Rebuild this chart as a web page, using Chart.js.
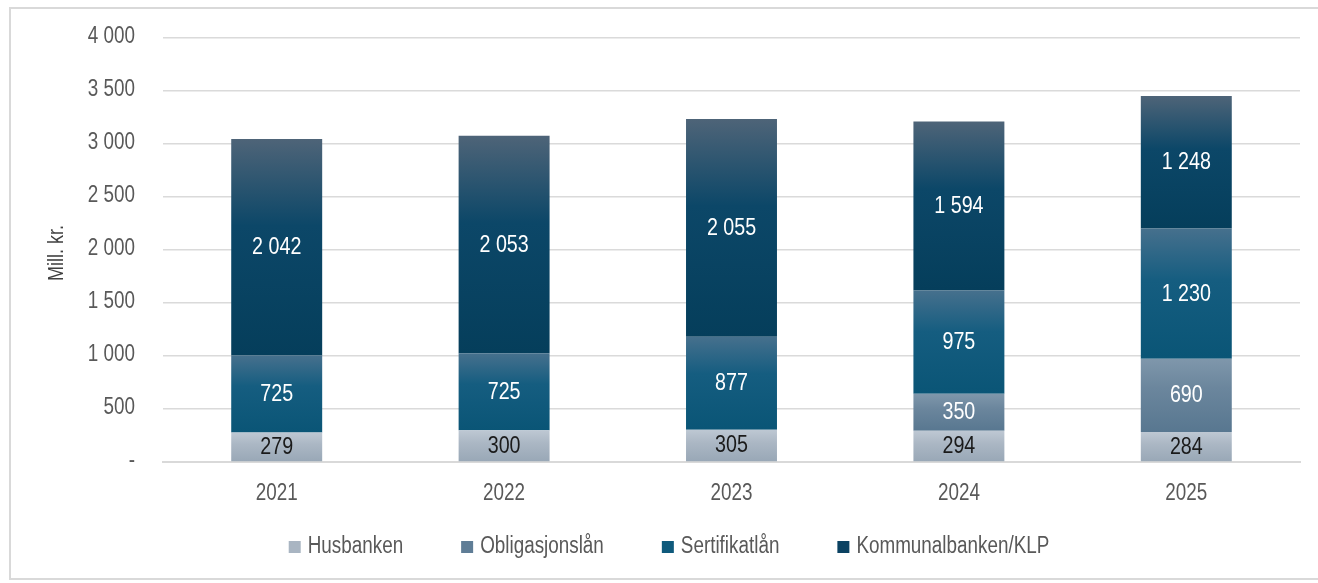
<!DOCTYPE html>
<html>
<head>
<meta charset="utf-8">
<script src="https://cdn.jsdelivr.net/npm/chart.js@4/dist/chart.umd.min.js"></script>
<style>
  html, body { margin: 0; padding: 0; background: #fff; overflow: hidden; }
  #wrap { width: 1318px; height: 583px; position: relative; }
</style>
</head>
<body>
<div id="wrap"><canvas id="graf"></canvas></div>
<script>
const years = ['2021', '2022', '2023', '2024', '2025'];
const husbanken = [279, 300, 305, 294, 284];
const obligasjonslan = [0, 0, 0, 350, 690];
const sertifikatlan = [725, 725, 877, 975, 1230];
const kommunalbanken = [2042, 2053, 2055, 1594, 1248];
const yTicks = [0, 500, 1000, 1500, 2000, 2500, 3000, 3500, 4000];
const names = ['Husbanken', 'Obligasjonslån', 'Sertifikatlån', 'Kommunalbanken/KLP'];

// Arial Narrow-lignende: Liberation Sans klemt sammen horisontalt
const FONT = "'Liberation Sans', Arial, sans-serif";
const NARROW = 0.82;

// gradient (topp -> bunn) per serie
const stops = [
    ['#bec8d3', '#abb7c4', '#98a7b6'],
    ['#7f97ab', '#6b869d', '#587790'],
    ['#46708d', '#155d80', '#0a5576'],
    ['#4e6478', '#0c4768', '#053e5b']
];
const legendColors = ['#a9b5c2', '#5f7d96', '#0f5a7c', '#0b4262'];
const labelColors = ['#1a1a1a', '#ffffff', '#ffffff', '#ffffff'];

const series = [husbanken, obligasjonslan, sertifikatlan, kommunalbanken];

function fmt(v) {
    return String(v).replace(/\B(?=(\d{3})+(?!\d))/g, ' ');
}

function tekst(c, str, x, y, align) {
    c.save();
    c.translate(x, y);
    c.scale(NARROW, 1);
    c.textAlign = align || 'center';
    c.fillText(str, 0, 0);
    c.restore();
}

function gradFor(datasetIndex) {
    return function (ctx) {
        const chart = ctx.chart;
        if (!chart.chartArea || ctx.dataIndex === undefined) return legendColors[datasetIndex];
        const y = chart.scales.y;
        let start = 0;
        for (let k = 0; k < datasetIndex; k++) start += series[k][ctx.dataIndex];
        const val = series[datasetIndex][ctx.dataIndex];
        const top = y.getPixelForValue(start + val);
        const bottom = y.getPixelForValue(start);
        if (!isFinite(top) || bottom - top < 1) return legendColors[datasetIndex];
        const g = chart.ctx.createLinearGradient(0, top, 0, bottom);
        const s = stops[datasetIndex];
        g.addColorStop(0, s[0]);
        g.addColorStop(0.4, s[1]);
        g.addColorStop(1, s[2]);
        return g;
    };
}

const rammePlugin = {
    id: 'ramme',
    beforeDraw(chart) {
        const c = chart.ctx;
        c.save();
        c.fillStyle = '#ffffff';
        c.fillRect(0, 0, chart.width, chart.height);
        c.strokeStyle = '#d9d9d9';
        c.lineWidth = 2;
        c.strokeRect(10, 8, chart.width + 10, chart.height - 12);
        c.restore();
    }
};

// akseetiketter, verdier og forklaring
const tekster = {
    id: 'tekster',
    afterDraw(chart) {
        const c = chart.ctx;
        const xs = chart.scales.x, ys = chart.scales.y;
        const area = chart.chartArea;
        c.save();
        c.textBaseline = 'alphabetic';

        // y-akse
        c.font = '23px ' + FONT;
        c.fillStyle = '#595959';
        yTicks.forEach(v => {
            const py = ys.getPixelForValue(v) + 5;
            tekst(c, v === 0 ? '-' : fmt(v), area.left - 28, py, 'right');
        });

        // y-tittel
        c.save();
        c.translate(63, (area.top + area.bottom) / 2 + 3);
        c.rotate(-Math.PI / 2);
        c.font = '22px ' + FONT;
        c.fillStyle = '#404040';
        tekst(c, 'Mill. kr.', 0, 0, 'center');
        c.restore();

        // x-akse
        c.font = '23px ' + FONT;
        c.fillStyle = '#595959';
        years.forEach((yr, i) => {
            tekst(c, yr, xs.getPixelForValue(i), area.bottom + 38, 'center');
        });

        // verdier i stolpene
        c.font = '24px ' + FONT;
        chart.data.datasets.forEach((ds, i) => {
            const meta = chart.getDatasetMeta(i);
            meta.data.forEach((bar, j) => {
                const v = ds.data[j];
                if (!v) return;
                c.fillStyle = labelColors[i];
                tekst(c, fmt(v), bar.x, (bar.y + bar.base) / 2 + 7, 'center');
            });
        });

        // forklaring
        c.font = '23px ' + FONT;
        const box = 12, gapTxt = 7, gapItem = 58;
        const widths = names.map(n => c.measureText(n).width * NARROW);
        const total = widths.reduce((a, w) => a + box + gapTxt + w, 0) + gapItem * (names.length - 1);
        let lx = 669 - total / 2;
        const ly = area.bottom + 91;
        names.forEach((n, i) => {
            c.fillStyle = legendColors[i];
            c.fillRect(lx, ly - 12, box, box);
            c.fillStyle = '#595959';
            tekst(c, n, lx + box + gapTxt, ly, 'left');
            lx += box + gapTxt + widths[i] + gapItem;
        });
        c.restore();
    }
};

new Chart(document.getElementById('graf'), {
    type: 'bar',
    data: {
        labels: years,
        datasets: series.map((d, i) => ({
            label: names[i],
            data: d,
            backgroundColor: gradFor(i),
            borderWidth: 0,
            barPercentage: 0.4,
            categoryPercentage: 1
        }))
    },
    options: {
        responsive: true,
        maintainAspectRatio: false,
        animation: false,
        layout: { padding: { top: 38, right: 18, left: 0, bottom: 0 } },
        plugins: {
            legend: { display: false },
            tooltip: { enabled: false }
        },
        scales: {
            x: {
                stacked: true,
                grid: { display: false },
                border: { display: true, color: '#d9d9d9', width: 2 },
                ticks: { display: false },
                afterFit(scale) { scale.height = 121; }
            },
            y: {
                stacked: true,
                min: 0,
                max: 4000,
                afterBuildTicks(scale) { scale.ticks = yTicks.map(v => ({ value: v })); },
                afterFit(scale) { scale.width = 163; },
                grid: { color: '#dadada', lineWidth: 1.5, drawTicks: false },
                border: { display: false },
                ticks: { display: false }
            }
        }
    },
    plugins: [rammePlugin, tekster]
});
</script>
</body>
</html>
